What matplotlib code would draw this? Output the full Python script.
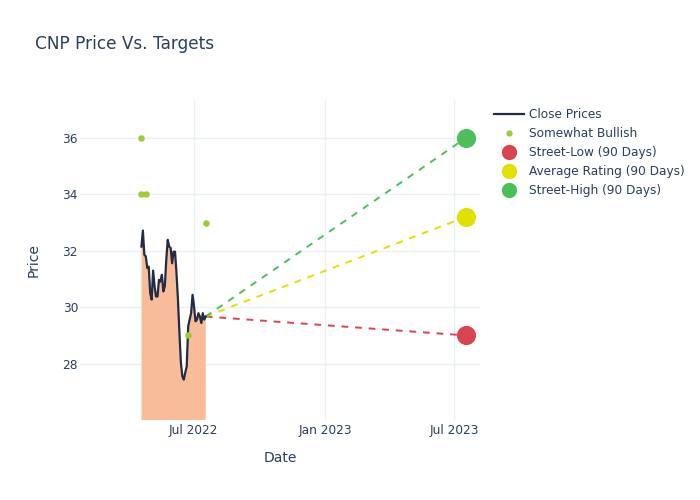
import numpy as np
import pandas as pd
import matplotlib
matplotlib.use("Agg")
from matplotlib import pyplot as plt
from matplotlib.lines import Line2D

plt.rcParams['font.family'] = ['DejaVu Sans']

# close prices, Apr 19 2022 -> Jul 18 2022
close = [32.15, 32.72, 31.86, 31.80, 31.39, 31.44, 30.50, 30.27, 31.30, 30.74,
         30.38, 30.38, 30.97, 30.91, 31.15, 30.56, 30.74, 31.68, 32.39, 32.15,
         32.10, 31.56, 31.97, 31.97, 31.21, 30.27, 29.10, 28.03, 27.55, 27.43,
         27.68, 27.90, 29.32, 29.56, 29.79, 30.44, 30.03, 29.50, 29.56, 29.79,
         29.67, 29.44, 29.79, 29.56, 29.67]
close_dates = pd.date_range("2022-04-19", "2022-07-18", periods=len(close))

# analyst ratings (Somewhat Bullish)
rating_dates = pd.to_datetime(["2022-04-19", "2022-04-19", "2022-04-25", "2022-06-23", "2022-07-18"])
rating_prices = [36, 34, 34, 29, 33]

# price targets
target_date = pd.Timestamp("2023-07-17")
target_names = ["Street-Low (90 Days)", "Average Rating (90 Days)", "Street-High (90 Days)"]
target_values = [29.0, 33.2, 36.0]
target_colors = ["#d9454f", "#e1e100", "#4dbf5a"]

text_col = "#2a3f5f"
grid_col = "#ebf0f8"

fig = plt.figure(figsize=(7, 5), dpi=100)
ax = fig.add_axes([80 / 700, 80 / 500, 400 / 700, 320 / 500])

ax.fill_between(close_dates, close, 0, color="#f8bd98", lw=0, zorder=1)
ax.plot(close_dates, close, color="#232b45", lw=1.6, zorder=3)

ax.scatter(rating_dates, rating_prices, s=22, color="#9acd32", zorder=4, lw=0)

last_date = close_dates[-1]
last_price = close[-1]
for v, c in zip(target_values, target_colors):
    ax.plot([last_date, target_date], [last_price, v], color=c, lw=1.4,
            linestyle=(0, (3.5, 3.5)), zorder=2)
    ax.scatter([target_date], [v], s=190, color=c, zorder=5, lw=0)

ax.set_xlim(pd.Timestamp("2022-01-23"), pd.Timestamp("2023-08-06"))
ax.set_ylim(26.0, 37.35)
ax.set_yticks([28, 30, 32, 34, 36])
ax.set_xticks(pd.to_datetime(["2022-07-01", "2023-01-01", "2023-07-01"]))
ax.set_xticklabels(["Jul 2022", "Jan 2023", "Jul 2023"])

ax.grid(True, color=grid_col, lw=1, zorder=0)
ax.set_axisbelow(True)
for s in ax.spines.values():
    s.set_visible(False)
ax.tick_params(length=0, colors=text_col, labelsize=8.7)
ax.tick_params(axis="y", pad=1.5)
ax.tick_params(axis="x", pad=3)
ax.set_xlabel("Date", color=text_col, fontsize=10, labelpad=10)
ax.set_ylabel("Price", color=text_col, fontsize=10, labelpad=16)

fig.text(35 / 700, 1 - 44 / 500, "CNP Price Vs. Targets", color=text_col,
         fontsize=12.2, va="center", ha="left")

handles = [Line2D([], [], color="#232b45", lw=1.6, label="Close Prices"),
           Line2D([], [], color="#9acd32", marker="o", ls="", ms=4.5, mew=0, label="Somewhat Bullish")]
for n, c in zip(target_names, target_colors):
    handles.append(Line2D([], [], color=c, marker="o", ls="", ms=11, mew=0, label=n))
leg = fig.legend(handles=handles, loc="upper left", bbox_to_anchor=(494 / 700, 1 - 108 / 500),
                 frameon=False, fontsize=8.7, labelcolor=text_col, handlelength=2.5,
                 handletextpad=0.42, labelspacing=0.5, borderaxespad=0, borderpad=0)

fig.savefig("out.png", dpi=100)
